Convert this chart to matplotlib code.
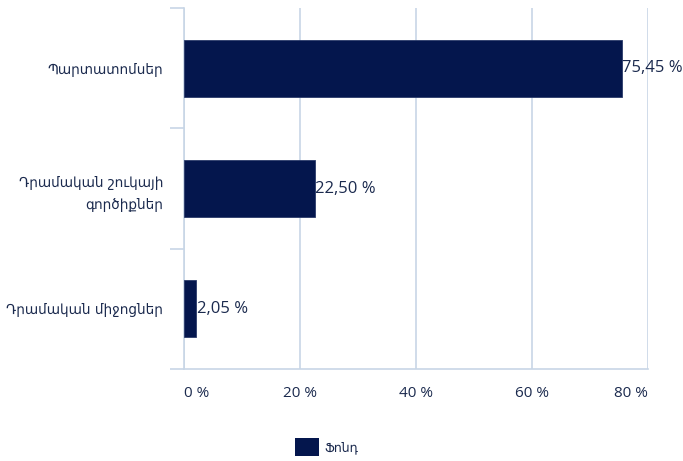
import numpy as np
import matplotlib.pyplot as plt
from matplotlib.patches import Patch

plt.rcParams['font.family'] = ['Open Sans', 'DejaVu Sans']

#--- data ---#
categories = ["Պարտատոմսեր", "Դրամական շուկայի\nգործիքներ", "Դրամական միջոցներ"]
values = [75.45, 22.50, 2.05]
value_labels = ["75,45 %", "22,50 %", "2,05 %"]
x_ticks = [0, 20, 40, 60, 80]
x_tick_labels = ["0 %", "20 %", "40 %", "60 %", "80 %"]
series_name = "Ֆոնդ"

bar_color = "#04164d"
text_color = "#1b2a4e"
grid_color = "#c8d6e6"

fig = plt.figure(figsize=(6.83, 4.61), dpi=100)
ax = fig.add_axes([184/683, 1 - 369/461, (648 - 184)/683, (369 - 8)/461])

ypos = np.arange(len(categories))[::-1]
ax.barh(ypos, values, height=0.475, color=bar_color, edgecolor="#2a3a6a", linewidth=0.6, zorder=3)

for y, v, lab in zip(ypos, values, value_labels):
    ax.text(v + 0.15, y, lab, va="center", ha="left", fontsize=12, color=text_color, zorder=4)

ax.set_xlim(0, 80)
ax.set_ylim(-0.5, 2.5)

#--- x axis ---#
ax.set_xticks(x_ticks)
ax.set_xticklabels(x_tick_labels, fontsize=11, color=text_color)
ax.tick_params(axis="x", length=0, pad=12)
xl = ax.get_xticklabels()
xl[0].set_ha("left")
xl[-1].set_ha("right")
ax.grid(axis="x", color=grid_color, linewidth=1.2, zorder=0)

#--- y axis ---#
ax.set_yticks(ypos)
ax.set_yticklabels(categories, fontsize=9.8, color=text_color, family=['DejaVu Sans'],
                   linespacing=1.7)
ax.tick_params(axis="y", which="major", length=0, pad=15)
ax.set_yticks([-0.5, 0.5, 1.5, 2.5], minor=True)
ax.tick_params(axis="y", which="minor", length=10, width=1.2, color=grid_color)

for s in ["top", "right"]:
    ax.spines[s].set_visible(False)
for s in ["left", "bottom"]:
    ax.spines[s].set_color(grid_color)
    ax.spines[s].set_linewidth(1.2)

#--- legend ---#
fig.legend(handles=[Patch(facecolor=bar_color, label=series_name)],
           loc="center", bbox_to_anchor=(327/683, 1 - 447/461),
           frameon=False, handlelength=1.85, handleheight=1.9, handletextpad=0.5,
           prop={"family": ["DejaVu Sans"], "size": 9}, labelcolor=text_color)

fig.savefig("out.png", dpi=100)
